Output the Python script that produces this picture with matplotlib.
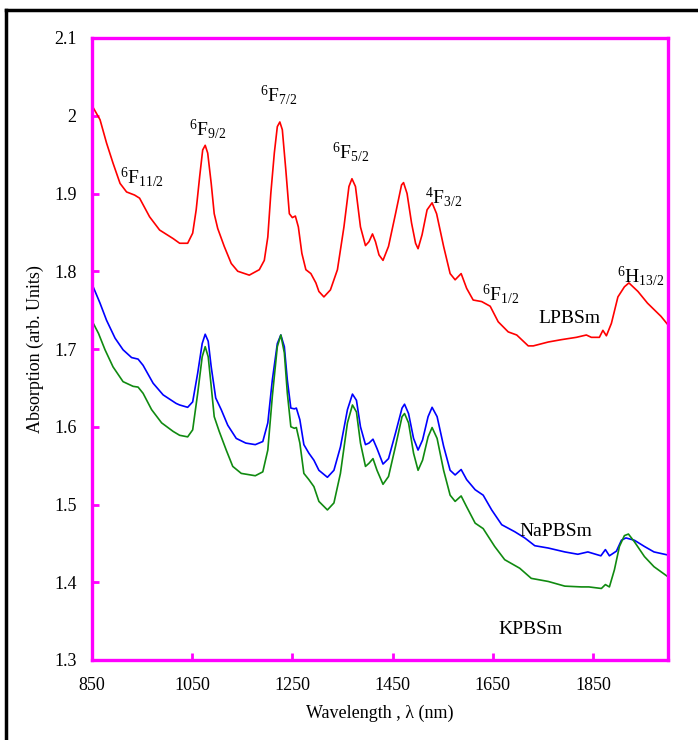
import numpy as np
import matplotlib
matplotlib.use("Agg")
import matplotlib.pyplot as plt
from matplotlib.lines import Line2D

plt.rcParams['font.family'] = ['Liberation Serif', 'DejaVu Serif']
plt.rcParams['mathtext.fontset'] = 'custom'
plt.rcParams['mathtext.rm'] = 'Liberation Serif'
plt.rcParams['mathtext.it'] = 'Liberation Serif:italic'

# LPBSm (red)
wl_lp = [850, 851, 866, 879, 892, 906, 919, 935, 945, 965, 985, 1012, 1025, 1041,
         1051, 1058, 1065, 1071, 1076, 1081, 1088, 1094, 1101, 1114, 1128, 1141,
         1164, 1184, 1194, 1201, 1207, 1214, 1220, 1225, 1230, 1237, 1244, 1250,
         1256, 1262, 1269, 1277, 1287, 1297, 1303, 1313, 1326, 1340, 1353, 1363,
         1369, 1376, 1386, 1396, 1403, 1410, 1416, 1423, 1431, 1442, 1456, 1468,
         1472, 1479, 1488, 1496, 1501, 1509, 1519, 1529, 1538, 1552, 1565, 1575,
         1587, 1598, 1611, 1628, 1645, 1661, 1681, 1698, 1721, 1731, 1761, 1787,
         1817, 1837, 1847, 1863, 1870, 1877, 1887, 1900, 1913, 1922, 1940, 1959,
         1986, 2000]
ab_lp = [2.10, 2.012, 1.995, 1.965, 1.939, 1.913, 1.902, 1.898, 1.894, 1.870, 1.853,
         1.842, 1.836, 1.836, 1.849, 1.879, 1.922, 1.956, 1.962, 1.952, 1.913, 1.874,
         1.855, 1.832, 1.810, 1.800, 1.795, 1.802, 1.814, 1.844, 1.900, 1.952, 1.986,
         1.992, 1.982, 1.930, 1.874, 1.869, 1.871, 1.857, 1.823, 1.802, 1.797, 1.785,
         1.774, 1.767, 1.776, 1.802, 1.857, 1.909, 1.919, 1.909, 1.857, 1.833, 1.838,
         1.848, 1.838, 1.821, 1.814, 1.832, 1.874, 1.911, 1.914, 1.900, 1.862, 1.836,
         1.829, 1.847, 1.879, 1.888, 1.874, 1.832, 1.797, 1.789, 1.797, 1.778, 1.763,
         1.761, 1.755, 1.735, 1.722, 1.718, 1.704, 1.704, 1.709, 1.712, 1.715, 1.718,
         1.715, 1.715, 1.724, 1.717, 1.733, 1.767, 1.780, 1.785, 1.774, 1.759, 1.742,
         1.731]

# NaPBSm (blue)
wl_na = [850, 851, 866, 879, 896, 912, 929, 942, 952, 972, 992, 1018, 1025, 1041,
         1051, 1061, 1070, 1076, 1082, 1088, 1097, 1108, 1121, 1138, 1157, 1176,
         1191, 1201, 1210, 1220, 1227, 1234, 1240, 1247, 1254, 1258, 1265, 1273,
         1283, 1293, 1303, 1320, 1333, 1346, 1360, 1370, 1378, 1386, 1396, 1403,
         1411, 1419, 1431, 1442, 1456, 1469, 1474, 1482, 1492, 1501, 1510, 1521,
         1529, 1539, 1552, 1565, 1575, 1587, 1598, 1615, 1631, 1648, 1668, 1694,
         1714, 1734, 1761, 1794, 1820, 1840, 1866, 1875, 1883, 1897, 1907, 1916,
         1933, 1953, 1972, 2000]
ab_na = [1.741, 1.782, 1.759, 1.737, 1.714, 1.699, 1.689, 1.687, 1.679, 1.656, 1.641,
         1.630, 1.628, 1.625, 1.632, 1.669, 1.707, 1.719, 1.710, 1.677, 1.637, 1.622,
         1.602, 1.585, 1.579, 1.577, 1.581, 1.605, 1.660, 1.707, 1.718, 1.703, 1.660,
         1.624, 1.623, 1.624, 1.609, 1.577, 1.566, 1.557, 1.544, 1.535, 1.544, 1.574,
         1.622, 1.642, 1.634, 1.600, 1.577, 1.579, 1.584, 1.572, 1.552, 1.559, 1.592,
         1.624, 1.629, 1.617, 1.585, 1.570, 1.583, 1.613, 1.625, 1.613, 1.575, 1.544,
         1.538, 1.545, 1.532, 1.519, 1.512, 1.493, 1.474, 1.465, 1.457, 1.447, 1.444,
         1.439, 1.436, 1.439, 1.434, 1.442, 1.434, 1.440, 1.454, 1.457, 1.454, 1.446,
         1.439, 1.435]

# KPBSm (green)
wl_k = [850, 851, 863, 876, 892, 912, 932, 942, 952, 969, 989, 1012, 1025, 1041,
        1051, 1061, 1070, 1076, 1082, 1088, 1094, 1104, 1118, 1131, 1148, 1176,
        1191, 1201, 1210, 1220, 1227, 1234, 1240, 1247, 1254, 1258, 1265, 1273,
        1283, 1293, 1303, 1320, 1333, 1346, 1360, 1370, 1378, 1386, 1396, 1403,
        1411, 1419, 1431, 1442, 1456, 1469, 1474, 1482, 1492, 1501, 1510, 1521,
        1529, 1539, 1552, 1565, 1575, 1587, 1598, 1615, 1631, 1654, 1674, 1704,
        1727, 1761, 1794, 1827, 1842, 1867, 1875, 1883, 1893, 1903, 1913, 1921,
        1933, 1953, 1972, 2000]
ab_k = [1.684, 1.735, 1.720, 1.699, 1.677, 1.658, 1.652, 1.651, 1.643, 1.622, 1.605,
        1.594, 1.589, 1.587, 1.596, 1.643, 1.690, 1.703, 1.690, 1.652, 1.613, 1.594,
        1.570, 1.549, 1.540, 1.537, 1.542, 1.570, 1.639, 1.703, 1.718, 1.695, 1.643,
        1.600, 1.598, 1.599, 1.579, 1.540, 1.532, 1.523, 1.504, 1.493, 1.502, 1.540,
        1.605, 1.628, 1.619, 1.579, 1.549, 1.553, 1.559, 1.544, 1.526, 1.536, 1.575,
        1.613, 1.617, 1.605, 1.566, 1.544, 1.557, 1.587, 1.599, 1.585, 1.544, 1.512,
        1.504, 1.511, 1.497, 1.476, 1.469, 1.446, 1.429, 1.418, 1.405, 1.401, 1.395,
        1.394, 1.394, 1.392, 1.397, 1.394, 1.416, 1.446, 1.460, 1.462, 1.452, 1.433,
        1.420, 1.407]

# band labels: text, wavelength, absorption
bands = [
    (r'$^{6}$F$_{11/2}$', 949, 1.921),
    (r'$^{6}$F$_{9/2}$', 1081, 1.983),
    (r'$^{6}$F$_{7/2}$', 1222, 2.027),
    (r'$^{6}$F$_{5/2}$', 1367, 1.953),
    (r'$^{4}$F$_{3/2}$', 1552, 1.896),
    (r'$^{6}$F$_{1/2}$', 1665, 1.771),
    (r'$^{6}$H$_{13/2}$', 1945, 1.794),
]
names = [('LPBSm', 1804, 1.739), ('NaPBSm', 1777, 1.465), ('KPBSm', 1726, 1.339)]

xticks = [850, 1050, 1250, 1450, 1650, 1850]
yticks = [1.3, 1.4, 1.5, 1.6, 1.7, 1.8, 1.9, 2.0, 2.1]
ylabels = ['1.3', '1.4', '1.5', '1.6', '1.7', '1.8', '1.9', '2', '2.1']

fig = plt.figure(figsize=(6.98, 7.40), dpi=100)
ax = fig.add_axes([92/698, 80/740, 576/698, 622/740])

ax.plot(wl_lp, ab_lp, color='#ff0000', lw=1.2, solid_joinstyle='round')
ax.plot(wl_na, ab_na, color='#0000ff', lw=1.2, solid_joinstyle='round')
ax.plot(wl_k, ab_k, color='#108a10', lw=1.2, solid_joinstyle='round')

for txt, x, y in bands:
    ax.text(x, y, txt, ha='center', va='center', fontsize=14)
for txt, x, y in names:
    ax.text(x, y, txt, ha='center', va='center', fontsize=14)

ax.set_xlim(850, 2000)
ax.set_ylim(1.3, 2.1)
ax.set_xticks(xticks)
ax.set_yticks(yticks)
ax.set_yticklabels(ylabels)
for s in ax.spines.values():
    s.set_color('#ff00ff')
    s.set_linewidth(2.4)
ax.tick_params(direction='in', length=5, width=2, color='#ff00ff', labelsize=13)
ax.tick_params(axis='x', pad=12)
ax.tick_params(axis='y', pad=11)
ax.set_xlabel('Wavelength , λ (nm)', fontsize=13, labelpad=8)
ax.set_ylabel('Absorption (arb. Units)', fontsize=13, labelpad=7)

# black frame around the figure
fig.add_artist(Line2D([6/698, 6/698], [0, 730/740], color='black', lw=2.5))
fig.add_artist(Line2D([6/698, 1], [730/740, 730/740], color='black', lw=2.5))

fig.savefig('out.png', dpi=100)
